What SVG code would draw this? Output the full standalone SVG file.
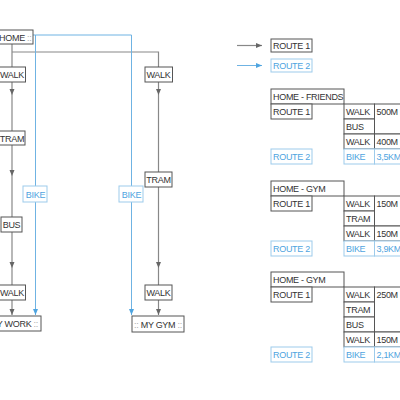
<svg xmlns="http://www.w3.org/2000/svg" width="400" height="400" viewBox="0 0 400 400">
<defs>
<style>
text{font-family:"Liberation Sans",Arial,sans-serif;font-size:9px;letter-spacing:-0.3px;fill:#333}
.b{fill:#fff;stroke:#555;stroke-width:1}
.bb{fill:#fff;stroke:#9dcbeb;stroke-width:1}
.bt{fill:#4ea4e0}
.c{fill:#aaa}
.g{fill:none;stroke:#888;stroke-width:1.2}
.bl{fill:none;stroke:#6fb3e3;stroke-width:1}
.m{text-anchor:middle}
</style>
<marker id="ag" markerUnits="userSpaceOnUse" markerWidth="6" markerHeight="6" refX="6" refY="3" orient="auto"><path d="M0,0.5 L6,3 L0,5.5 z" fill="#666"/></marker>
<marker id="ab" markerUnits="userSpaceOnUse" markerWidth="6" markerHeight="6" refX="6" refY="3" orient="auto"><path d="M0,0.5 L6,3 L0,5.5 z" fill="#4ea4e0"/></marker>
</defs>
<rect width="400" height="400" fill="#fff"/>
<g id="connectors">
<path class="g" d="M12,44 V67"/>
<path class="g" d="M12,52 H158.5 V67"/>
<path class="g" d="M12,82 V95 V131" marker-mid="url(#ag)"/>
<path class="g" d="M12,145 V176 V217" marker-mid="url(#ag)"/>
<path class="g" d="M12,232 V268 V285" marker-mid="url(#ag)"/>
<path class="g" d="M12,300 V315" marker-end="url(#ag)"/>
<path class="g" d="M158.5,82 V95 V172" marker-mid="url(#ag)"/>
<path class="g" d="M158.5,187 V268 V285" marker-mid="url(#ag)"/>
<path class="g" d="M158.5,300 V315" marker-end="url(#ag)"/>
<path class="bl" d="M33,35 H35.5 V315" marker-end="url(#ab)"/>
<path class="bl" d="M35.5,35 H131.5 V315" marker-end="url(#ab)"/>
<path class="g" d="M237,45.5 H262" marker-end="url(#ag)"/>
<path class="bl" d="M237,65.5 H262" marker-end="url(#ab)"/>
</g>
<g id="home"><rect class="b" x="-9" y="30" width="42" height="14"/><text class="m" x="12" y="40.5"><tspan class="c">:: </tspan>HOME<tspan class="c"> ::</tspan></text></g>
<g id="walk-l1"><rect class="b" x="-1.5" y="67" width="27" height="15"/><text class="m" x="12" y="78">WALK</text></g>
<g id="tram-l"><rect class="b" x="-1.5" y="131" width="26.5" height="14"/><text class="m" x="12" y="141.5">TRAM</text></g>
<g id="bus-l"><rect class="b" x="1" y="217" width="21" height="15"/><text class="m" x="11.5" y="228">BUS</text></g>
<g id="walk-l2"><rect class="b" x="-1.5" y="285" width="27" height="15"/><text class="m" x="12" y="296">WALK</text></g>
<g id="my-work"><rect class="b" x="-20" y="316" width="61" height="15"/><text class="m" x="10.5" y="327"><tspan class="c">:: </tspan>MY WORK<tspan class="c"> ::</tspan></text></g>
<g id="bike-l"><rect class="bb" x="23" y="186" width="24" height="16"/><text class="m bt" x="35.5" y="197.5">BIKE</text></g>
<g id="walk-r1"><rect class="b" x="145" y="67" width="27.5" height="15"/><text class="m" x="158.5" y="78">WALK</text></g>
<g id="tram-r"><rect class="b" x="145" y="172" width="27" height="15"/><text class="m" x="158.5" y="183">TRAM</text></g>
<g id="walk-r2"><rect class="b" x="145" y="285" width="27" height="15"/><text class="m" x="158.5" y="296">WALK</text></g>
<g id="my-gym"><rect class="b" x="132" y="316" width="52" height="16"/><text class="m" x="158" y="327.5"><tspan class="c">:: </tspan>MY GYM<tspan class="c"> ::</tspan></text></g>
<g id="bike-r"><rect class="bb" x="119" y="186" width="24" height="16"/><text class="m bt" x="131.5" y="197.5">BIKE</text></g>
<g id="legend">
<rect class="b" x="271" y="39" width="41" height="13"/><text x="273" y="49">ROUTE 1</text>
<rect class="bb" x="271" y="59" width="41" height="13"/><text class="bt" x="273" y="69">ROUTE 2</text>
</g>
<g id="table-friends">
<rect class="b" x="271" y="89" width="73" height="15"/><text x="273" y="100">HOME - FRIENDS</text>
<rect class="b" x="271" y="104" width="41" height="15"/><text x="273" y="115">ROUTE 1</text>
<rect class="b" x="344" y="104" width="30.5" height="15"/><text x="346" y="115">WALK</text>
<rect class="b" x="344" y="119" width="30.5" height="15"/><text x="346" y="130">BUS</text>
<rect class="b" x="344" y="134" width="30.5" height="15"/><text x="346" y="145">WALK</text>
<rect class="b" x="374.5" y="104" width="40" height="30"/><text x="376.5" y="115">500M</text>
<rect class="b" x="374.5" y="134" width="40" height="15"/><text x="376.5" y="145">400M</text>
<rect class="bb" x="271" y="149" width="41" height="15"/><text class="bt" x="273" y="160">ROUTE 2</text>
<rect class="bb" x="344" y="149" width="30.5" height="15"/><text class="bt" x="346" y="160">BIKE</text>
<rect class="bb" x="374.5" y="149" width="40" height="15"/><text class="bt" x="376.5" y="160">3,5KM</text>
</g>
<g id="table-gym1">
<rect class="b" x="271" y="181" width="73" height="15"/><text x="273" y="192">HOME - GYM</text>
<rect class="b" x="271" y="196" width="41" height="15"/><text x="273" y="207">ROUTE 1</text>
<rect class="b" x="344" y="196" width="30.5" height="15"/><text x="346" y="207">WALK</text>
<rect class="b" x="344" y="211" width="30.5" height="15"/><text x="346" y="222">TRAM</text>
<rect class="b" x="344" y="226" width="30.5" height="15"/><text x="346" y="237">WALK</text>
<rect class="b" x="374.5" y="196" width="40" height="30"/><text x="376.5" y="207">150M</text>
<rect class="b" x="374.5" y="226" width="40" height="15"/><text x="376.5" y="237">150M</text>
<rect class="bb" x="271" y="241" width="41" height="15"/><text class="bt" x="273" y="252">ROUTE 2</text>
<rect class="bb" x="344" y="241" width="30.5" height="15"/><text class="bt" x="346" y="252">BIKE</text>
<rect class="bb" x="374.5" y="241" width="40" height="15"/><text class="bt" x="376.5" y="252">3,9KM</text>
</g>
<g id="table-gym2">
<rect class="b" x="271" y="272" width="73" height="15"/><text x="273" y="283">HOME - GYM</text>
<rect class="b" x="271" y="287" width="41" height="15"/><text x="273" y="298">ROUTE 1</text>
<rect class="b" x="344" y="287" width="30.5" height="15"/><text x="346" y="298">WALK</text>
<rect class="b" x="344" y="302" width="30.5" height="15"/><text x="346" y="313">TRAM</text>
<rect class="b" x="344" y="317" width="30.5" height="15"/><text x="346" y="328">BUS</text>
<rect class="b" x="344" y="332" width="30.5" height="15"/><text x="346" y="343">WALK</text>
<rect class="b" x="374.5" y="287" width="40" height="45"/><text x="376.5" y="298">250M</text>
<rect class="b" x="374.5" y="332" width="40" height="15"/><text x="376.5" y="343">150M</text>
<rect class="bb" x="271" y="347" width="41" height="15"/><text class="bt" x="273" y="358">ROUTE 2</text>
<rect class="bb" x="344" y="347" width="30.5" height="15"/><text class="bt" x="346" y="358">BIKE</text>
<rect class="bb" x="374.5" y="347" width="40" height="15"/><text class="bt" x="376.5" y="358">2,1KM</text>
</g>
</svg>
